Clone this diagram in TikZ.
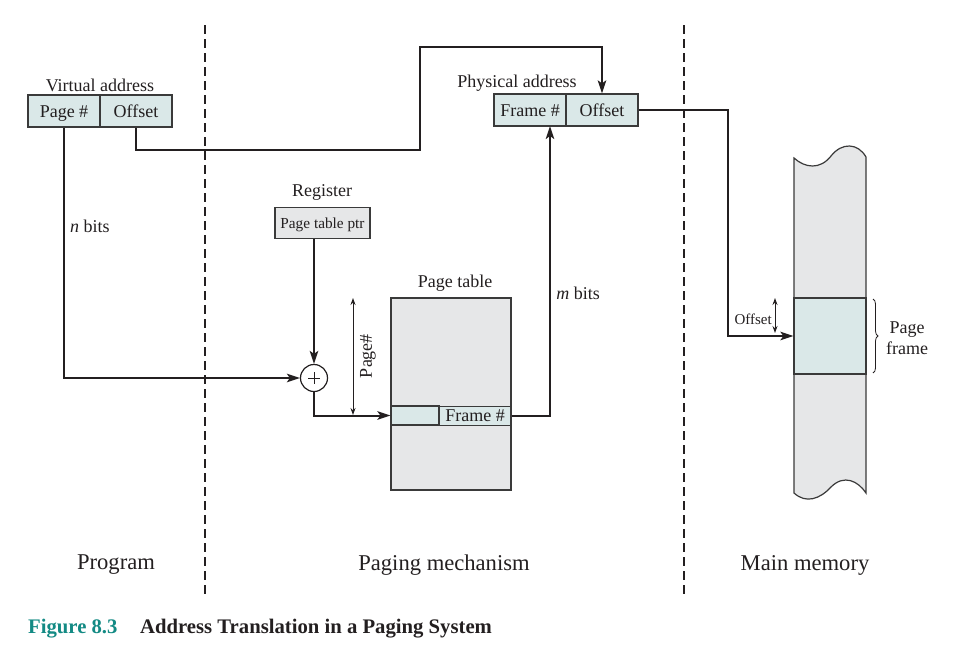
\documentclass[tikz,border=0pt]{standalone}
\usepackage{fontspec}
\setmainfont{Liberation Serif}
\usetikzlibrary{arrows.meta,decorations.pathreplacing}
\definecolor{boxteal}{HTML}{DAE8E8}
\definecolor{boxgray}{HTML}{E6E7E8}
\definecolor{edge}{HTML}{3A3A3A}
\definecolor{ink}{HTML}{231F20}
\definecolor{capteal}{HTML}{138A84}
\tikzset{
  lbl/.style={font=\fontsize{18}{20.5}\selectfont, text=ink, inner sep=0pt},
  big/.style={font=\fontsize{22.6}{24}\selectfont, text=ink, inner sep=0pt},
  small/.style={font=\fontsize{15}{17}\selectfont, text=ink, inner sep=0pt},
  cell/.style={draw=edge, line width=1.2pt, fill=boxteal, minimum height=32pt, minimum width=72pt, inner sep=0pt, text height=13pt, text depth=0pt, font=\fontsize{18}{20}\selectfont, text=ink},
  conn/.style={draw=ink, line width=2pt, -{Stealth[length=13pt,width=8.5pt,inset=3pt]}},
  plain/.style={draw=ink, line width=2pt},
  dim/.style={draw=ink, line width=0.9pt, {Stealth[length=7pt,width=5pt]}-{Stealth[length=7pt,width=5pt]}},
  divider/.style={draw=ink, line width=2pt, dash pattern=on 9pt off 5pt},
}
\begin{document}
\begin{tikzpicture}[x=1pt,y=-1pt]
\useasboundingbox (0,0) rectangle (980,670);
% dashed dividers
\coordinate (d1t) at (205,25); \coordinate (d1b) at (205,598);
\coordinate (d2t) at (684,25); \coordinate (d2b) at (684,598);
\draw[divider] (d1t) -- (d1b);
\draw[divider] (d2t) -- (d2b);

% virtual address
\node[lbl] (vlabel) at (100,85) {Virtual address};
\node[cell] (vpg) at (64,111) {Page \#};
\node[cell] (voff) at (136,111) {Offset};

% physical address
\node[lbl] (plabel) at (517,83) {Physical address};
\node[cell] (pfr) at (530,110) {Frame \#};
\node[cell] (poff) at (602,110) {Offset};

% register
\node[lbl] (reglabel) at (322,192) {Register};
\node[draw=edge, line width=1.2pt, fill=boxgray, minimum width=95pt, minimum height=31pt, inner sep=0pt, text height=11pt, text depth=0pt, font=\fontsize{15.3}{17}\selectfont, text=ink] (ptr) at (322.5,223) {Page table ptr};

% adder
\node[draw=ink, line width=1.2pt, fill=white, circle, minimum size=27pt, inner sep=0pt] (plus) at (314,378) {};
\draw[ink, line width=0.8pt] (308,378) -- (320,378) (314,372) -- (314,384);

% page table
\node[lbl] (ptlabel) at (455,283) {Page table};
\node[draw=edge, line width=1.2pt, fill=boxgray, minimum width=120pt, minimum height=192pt, inner sep=0pt] (pt) at (451,394) {};
\node[draw=edge, line width=1.2pt, fill=boxteal, minimum width=48pt, minimum height=19pt, inner sep=0pt] (rowL) at (415,415.5) {};
\node[draw=edge, line width=1.2pt, fill=boxteal, minimum width=72pt, minimum height=19pt, inner sep=0pt, font=\fontsize{18}{20}\selectfont, text=ink] (rowR) at (475,416) {Frame \#};

% page# dimension
\coordinate (pgt) at (353,298); \coordinate (pgb) at (353,415);
\draw[dim] (pgt) -- (pgb);
\node[lbl, rotate=90] (pglabel) at (368,356) {Page\#};

% main memory
\draw[edge, line width=1.2pt, fill=boxgray]
  (794,158) .. controls (805,168) and (820,170) .. (831,156)
  .. controls (842,142) and (858,143) .. (866,157)
  -- (866,493)
  .. controls (858,481) and (844,474) .. (831,487)
  .. controls (820,499) and (806,504) .. (794,493) -- cycle;
\node[draw=edge, line width=1.2pt, fill=boxteal, minimum width=72pt, minimum height=76pt, inner sep=0pt] (frame) at (830,336) {};
\draw[decorate, decoration={brace, amplitude=5pt}, ink, line width=0.8pt] (873,299) -- (873,373);
\node[lbl, align=center] (pflabel) at (907,338) {Page\\frame};
\coordinate (ofst) at (775,298); \coordinate (ofsb) at (775,333);
\draw[dim] (ofst) -- (ofsb);
\node[small, anchor=east] (offlabel) at (772,319) {Offset};

% connectors
\draw[conn] (vpg.south) |- (plus.west);
\node[lbl, anchor=west] (nbits) at (70,226) {\textit{n} bits};
\coordinate (c1) at (420,150);
\coordinate (c2) at (420,47);
\draw[conn] (voff.south) |- (c1) -- (c2) -| (poff.north);
\draw[conn] (plus |- ptr.south) -- (plus.north);
\draw[conn] (plus.south) |- (rowL.west);
\coordinate (fin) at (550,126);
\draw[conn] (rowR.east) -| (fin);
\node[lbl] (mbits) at (578,293) {\textit{m} bits};
\coordinate (c3) at (728,110);
\draw[conn] (poff.east) -- (c3) |- (frame.west);

% bottom labels
\node[big] (prog) at (116,565) {Program};
\node[big] (pmech) at (444,565) {Paging mechanism};
\node[big] (mmem) at (805,565) {Main memory};

% caption
\node[anchor=west, inner sep=0pt, font=\fontsize{20.7}{22}\selectfont\bfseries, text=capteal] (fig) at (28,629) {Figure 8.3};
\node[anchor=west, inner sep=0pt, font=\fontsize{20.7}{22}\selectfont\bfseries, text=ink] (cap) at (140,629) {Address Translation in a Paging System};
\end{tikzpicture}
\end{document}
